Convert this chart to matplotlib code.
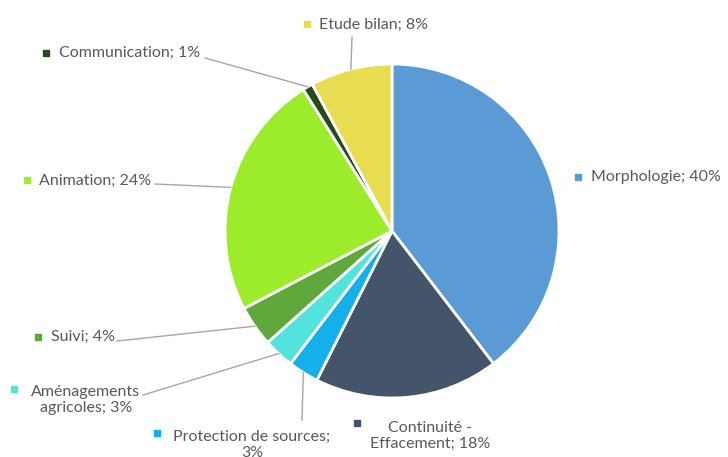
import numpy as np
import matplotlib
matplotlib.use("Agg")
import matplotlib.pyplot as plt

# donnees du camembert (sens horaire depuis le haut)
label_texts = ["Morphologie; 40%", "Continuité -\nEffacement; 18%", "Protection de sources;\n3%",
               "Aménagements\nagricoles; 3%", "Suivi; 4%", "Animation; 24%",
               "Communication; 1%", "Etude bilan; 8%"]
values = [40, 18, 3, 3, 4, 24, 1, 8]
colors = ["#5B9BD5", "#44546A", "#13B0EC", "#52E3DC", "#5FA83C", "#9CEC2C", "#28481E", "#E8DD50"]

W, H = 728, 457
CX, CY, R = 392, 226, 167

# positions des etiquettes (pixels, y vers le bas): marqueur, centre du texte, alignement, debut de ligne
label_marker = [(578, 177), (357, 423), (157, 433), (14, 389), (38, 337), (27, 180), (46, 53), (307, 24)]
label_pos = [(591, 177), (430, 436), (252, 445), (86, 400), (51, 337), (39, 181), (59, 53), (319, 25)]
label_ha = ["left", "center", "center", "center", "left", "left", "left", "left"]
line_start = [None, None, (302, 420), (143, 395), (117, 341), (155, 184), (205, 58), (352, 37)]

TEXT_COLOR = "#595959"
LINE_COLOR = "#A6A6A6"

plt.rcParams['font.family'] = ['Lato', 'DejaVu Sans']

fig = plt.figure(figsize=(W / 100, H / 100), dpi=100)
ax = fig.add_axes([0, 0, 1, 1])

wedges, _ = ax.pie(values, colors=colors, startangle=90, counterclock=False,
                   center=(CX, CY), radius=R,
                   wedgeprops=dict(edgecolor="white", linewidth=2))
ax.set_xlim(0, W)
ax.set_ylim(0, H)
ax.set_aspect("equal")
ax.axis("off")

for i, w in enumerate(wedges):
    mx, my = label_marker[i]
    ax.plot(mx, H - my, marker="s", markersize=5, color=colors[i], linestyle="none")
    tx, ty = label_pos[i]
    ax.text(tx, H - ty, label_texts[i], ha=label_ha[i], va="center", fontsize=11.5,
            color=TEXT_COLOR, multialignment="center", linespacing=1.15)
    if line_start[i] is not None:
        ang = np.deg2rad((w.theta1 + w.theta2) / 2)
        ex = CX + R * np.cos(ang)
        ey = CY + R * np.sin(ang)
        sx, sy = line_start[i]
        ax.plot([sx, ex], [H - sy, ey], color=LINE_COLOR, linewidth=1)

fig.savefig("out.png", dpi=100)
